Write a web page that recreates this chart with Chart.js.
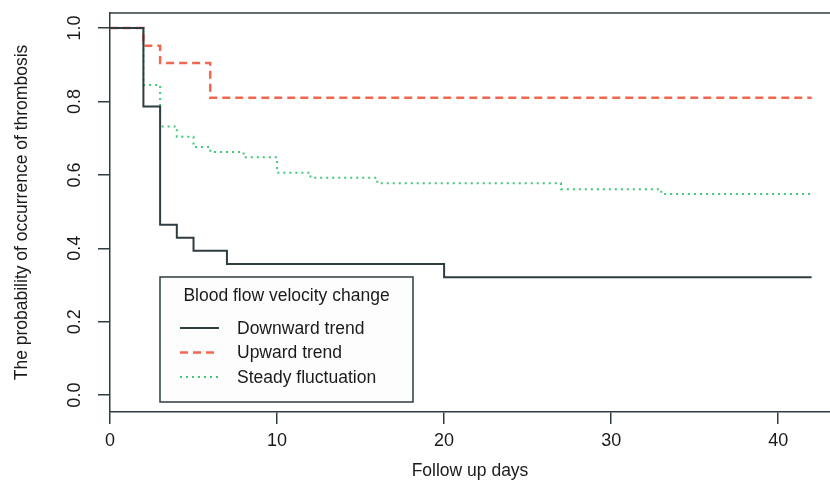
<!DOCTYPE html>
<html>
<head>
<meta charset="utf-8">
<script src="https://cdn.jsdelivr.net/npm/chart.js@4/dist/chart.umd.min.js"></script>
<style>
  html, body { margin: 0; padding: 0; background: #ffffff; }
  #wrap { width: 830px; height: 491px; position: relative; }
</style>
</head>
<body>
<div id="wrap"><canvas id="km"></canvas></div>
<script>
// Kaplan-Meier style curves
const downDays = [0, 2, 3, 4, 5, 7, 20, 42]
const downProb = [1, 0.786, 0.464, 0.429, 0.393, 0.357, 0.321, 0.321]

const upDays = [0, 2, 3, 6, 42]
const upProb = [1, 0.952, 0.905, 0.81, 0.81]

const steadyDays = [0, 2, 3, 4, 5, 6, 8, 10, 12, 16, 27, 33, 42]
const steadyProb = [1, 0.845, 0.732, 0.704, 0.676, 0.662, 0.648, 0.606, 0.592, 0.577, 0.561, 0.548, 0.548]

const seriesNames = ["Downward trend", "Upward trend", "Steady fluctuation"]
const legendTitle = "Blood flow velocity change"
const xTicks = [0, 10, 20, 30, 40]
const yTicks = [0, 0.2, 0.4, 0.6, 0.8, 1.0]

const FONT = "'Liberation Sans', Arial, sans-serif"
const AXIS = "#2f3c40"
const TEXT = "#1a1a1a"

function toPoints(xs, ys) {
  return xs.map((x, i) => ({ x: x, y: ys[i] }))
}

// legend box drawn inside the plot, R style
const boxLegend = {
  id: "boxLegend",
  afterDatasetsDraw(chart) {
    const ctx = chart.ctx
    const left = 160, top = 277, w = 253, h = 125
    ctx.save()
    ctx.fillStyle = "#fdfdfe"
    ctx.fillRect(left, top, w, h)
    ctx.strokeStyle = AXIS
    ctx.lineWidth = 1.5
    ctx.strokeRect(left, top, w, h)
    ctx.fillStyle = TEXT
    ctx.font = "17.5px " + FONT
    ctx.textBaseline = "middle"
    ctx.textAlign = "center"
    ctx.fillText(legendTitle, left + w / 2, top + 19)
    ctx.textAlign = "left"
    chart.data.datasets.forEach((ds, i) => {
      const y = top + 51 + i * 24.5
      ctx.save()
      ctx.strokeStyle = ds.borderColor
      ctx.lineWidth = ds.borderWidth
      ctx.setLineDash(ds.borderDash || [])
      ctx.beginPath()
      ctx.moveTo(180, y)
      ctx.lineTo(219, y)
      ctx.stroke()
      ctx.restore()
      ctx.fillStyle = TEXT
      ctx.fillText(ds.label, 237, y + 1)
    })
    ctx.restore()
  }
}

// top border of the plot box
const topBorder = {
  id: "topBorder",
  afterDraw(chart) {
    const a = chart.chartArea
    const ctx = chart.ctx
    ctx.save()
    ctx.strokeStyle = AXIS
    ctx.lineWidth = 1.5
    ctx.beginPath()
    ctx.moveTo(a.left, a.top)
    ctx.lineTo(a.right, a.top)
    ctx.stroke()
    ctx.restore()
  }
}

new Chart(document.getElementById("km"), {
  type: "line",
  data: {
    datasets: [
      {
        label: seriesNames[0],
        data: toPoints(downDays, downProb),
        borderColor: "#2f3c40",
        borderWidth: 2,
        stepped: "before",
        pointRadius: 0
      },
      {
        label: seriesNames[1],
        data: toPoints(upDays, upProb),
        borderColor: "#f2674f",
        borderWidth: 2.5,
        borderDash: [8, 5],
        stepped: "before",
        pointRadius: 0
      },
      {
        label: seriesNames[2],
        data: toPoints(steadyDays, steadyProb),
        borderColor: "#3fc878",
        borderWidth: 2,
        borderDash: [2, 4],
        stepped: "before",
        pointRadius: 0
      }
    ]
  },
  options: {
    responsive: true,
    maintainAspectRatio: false,
    animation: false,
    layout: { padding: { top: 13, right: 0, bottom: 9, left: 0 } },
    plugins: {
      legend: { display: false },
      tooltip: { enabled: false }
    },
    scales: {
      x: {
        type: "linear",
        min: 0,
        max: 43.1,
        afterBuildTicks: (s) => { s.ticks = xTicks.map(v => ({ value: v })) },
        afterFit: (s) => { s.height = 70; s.paddingLeft = 0; s.paddingRight = 0 },
        border: { display: true, color: AXIS, width: 1.5 },
        grid: { drawOnChartArea: false, drawTicks: true, tickLength: 12, color: AXIS, lineWidth: 1.5 },
        ticks: {
          color: TEXT,
          font: { family: FONT, size: 18 },
          padding: 6,
          maxRotation: 0
        },
        title: {
          display: true,
          text: "Follow up days",
          color: TEXT,
          font: { family: FONT, size: 17.5 },
          padding: { top: 0, bottom: 0 }
        }
      },
      y: {
        type: "linear",
        min: -0.046,
        max: 1.041,
        afterBuildTicks: (s) => { s.ticks = yTicks.map(v => ({ value: v })) },
        afterFit: (s) => { s.width = 110; s.paddingTop = 0; s.paddingBottom = 0 },
        border: { display: true, color: AXIS, width: 1.5 },
        grid: { drawOnChartArea: false, drawTicks: true, tickLength: 12, color: AXIS, lineWidth: 1.5 },
        ticks: {
          color: TEXT,
          font: { family: FONT, size: 18 },
          minRotation: 90,
          maxRotation: 90,
          crossAlign: "center",
          padding: 10,
          callback: (v) => v.toFixed(1)
        },
        title: {
          display: true,
          text: "The probability of occurrence of thrombosis",
          color: TEXT,
          font: { family: FONT, size: 17.5 },
          padding: { top: 12, bottom: 0 }
        }
      }
    }
  },
  plugins: [boxLegend, topBorder]
})
</script>
</body>
</html>
